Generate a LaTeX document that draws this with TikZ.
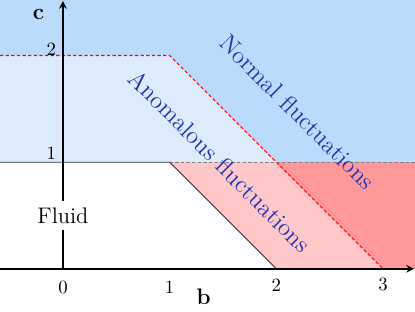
\documentclass[tikz,border=0pt]{standalone}
\definecolor{normalblue}{RGB}{186,219,251}
\definecolor{anomblue}{RGB}{220,236,253}
\definecolor{anompink}{RGB}{255,200,200}
\definecolor{normalred}{RGB}{255,152,152}
\definecolor{labelblue}{RGB}{30,50,185}
\begin{document}
\begin{tikzpicture}[x=2cm, y=2cm, >=stealth, thick]
    \useasboundingbox (-0.59,-0.40) rectangle (3.30,2.52);
    % Phase regions
    \fill[normalblue] (-0.59,2) -- (1,2) -- (2,1) -- (3.30,1) -- (3.30,2.52) -- (-0.59,2.52) -- cycle;
    \fill[anomblue] (-0.59,1) -- (-0.59,2) -- (1,2) -- (2,1) -- cycle;
    \fill[anompink] (1,1) -- (2,1) -- (3,0) -- (2,0) -- cycle;
    \fill[normalred] (2,1) -- (3.30,1) -- (3.30,0) -- (3,0) -- cycle;
    % Boundaries
    \draw[red, line width=0.6pt, dash pattern=on 1.8pt off 1.2pt] (-0.59,2) -- (1,2) -- (3,0);
    \draw[gray, line width=0.6pt, dash pattern=on 1.8pt off 1.2pt] (1,1) -- (3.30,1);
    \draw[black!80, thin] (-0.59,1) -- (1,1) -- (2,0);
    % Axes
    \coordinate (xmin) at (-0.59,0);
    \coordinate (xmax) at (3.29,0);
    \coordinate (O) at (0,0);
    \coordinate (ymax) at (0,2.51);
    \draw[->] (xmin) -- (xmax);
    \draw[->] (O) -- (ymax);
    \node (blabel) at (1.32,-0.26) {\large\textbf{b}};
    \node (clabel) at (-0.23,2.38) {\large\textbf{c}};
    \node (x0) at (0,-0.17) {0};
    \node (x1) at (1,-0.17) {1};
    \node (x2) at (2,-0.15) {2};
    \node (x3) at (3,-0.15) {3};
    \node (y1) at (-0.11,1.08) {1};
    \node (y2) at (-0.11,2.06) {2};
    % Region labels
    \node[fill=white, font=\large] (fluid) at (0,0.5) {Fluid};
    \node[rotate=-45, font=\fontsize{13}{15}\selectfont, text=labelblue] (anom) at (1.47,1.01) {Anomalous fluctuations};
    \node[rotate=-45, font=\fontsize{13}{15}\selectfont, text=labelblue] (normal) at (2.20,1.47) {Normal fluctuations};
\end{tikzpicture}
\end{document}
